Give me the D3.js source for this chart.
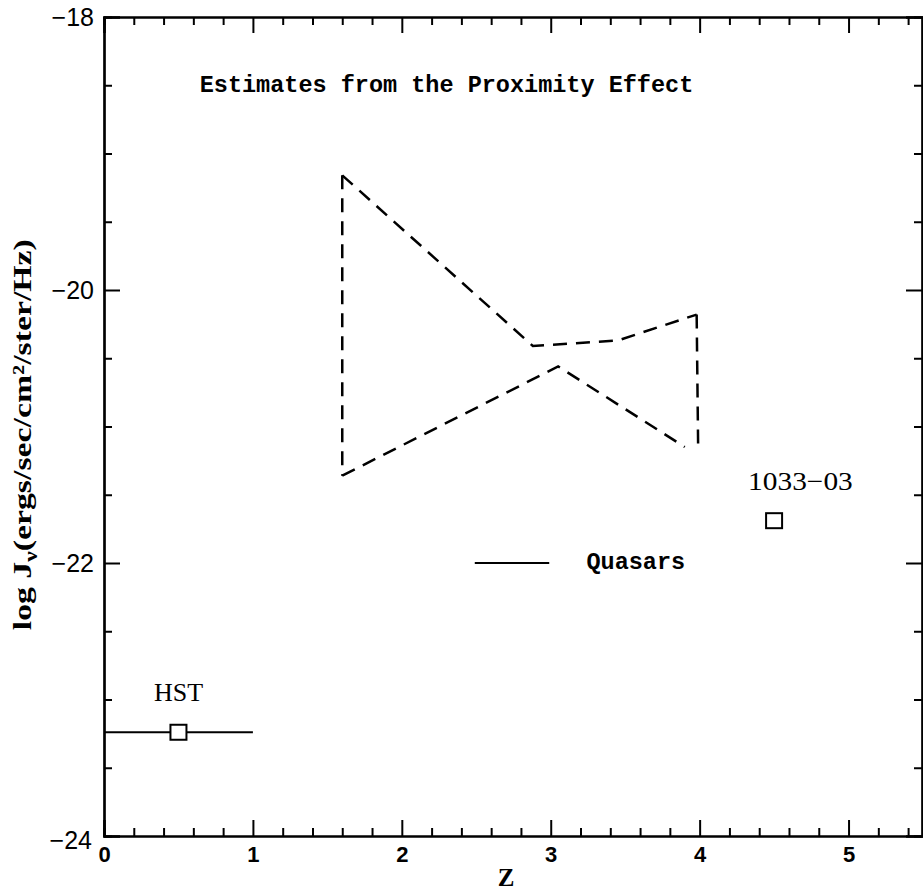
<!DOCTYPE html>
<html>
<head>
<meta charset="utf-8">
<script src="https://cdn.jsdelivr.net/npm/d3@7"></script>
<style>
  body { margin: 0; background: #fff; }
  svg { display: block; }
</style>
</head>
<body>
<svg id="chart"></svg>
<script>
const WIDTH = 923;
const HEIGHT = 891;

// Data
const xMajorTicks = [0, 1, 2, 3, 4, 5];
const yMajorTicks = [-24, -22, -20, -18];
// upper branch of the quasar proximity-effect band
const bandUpper = [
  { z: 1.6, j: -19.16 },
  { z: 2.88, j: -20.41 },
  { z: 3.45, j: -20.37 },
  { z: 3.98, j: -20.18 }
];
// lower branch
const bandLower = [
  { z: 1.6, j: -21.36 },
  { z: 3.05, j: -20.56 },
  { z: 3.9, j: -21.15 }
];
// vertical sides of the band
const bandSides = [
  [{ z: 1.6, j: -19.16 }, { z: 1.6, j: -21.36 }],
  [{ z: 3.98, j: -20.18 }, { z: 3.99, j: -21.16 }]
];
const points = [
  { name: "HST", z: 0.5, j: -23.24, zmin: 0, zmax: 1 },
  { name: "1033-03", z: 4.5, j: -21.69, zmin: null, zmax: null }
];
const legendLine = [{ z: 2.49, j: -22 }, { z: 2.99, j: -22 }];
const legendLabel = "Quasars";
const titleText = "Estimates from the Proximity Effect";

const svg = d3.select("#chart").attr("width", WIDTH).attr("height", HEIGHT);

const x = d3.scaleLinear().domain([0, 5.5]).range([104, 923]);
const y = d3.scaleLinear().domain([-24, -18]).range([836, 17]);

const xMinor = d3.range(0, 5.5001, 0.2).filter(v => Math.abs(v - Math.round(v)) > 1e-6);
const yMinor = d3.range(-24, -17.99, 0.5).filter(v => Math.abs(v / 2 - Math.round(v / 2)) > 1e-6);

const axisG = svg.append("g");
const tickFont = "'Liberation Sans', sans-serif";
const minus = s => s.replace("-", "\u2212");

// bottom
const xAxisG = axisG.append("g").attr("transform", `translate(0,${y(-24)})`)
  .call(d3.axisBottom(x).tickValues(xMajorTicks).tickSize(-16).tickPadding(10).tickFormat(d3.format("d")));
axisG.append("g").attr("transform", `translate(0,${y(-24)})`)
  .call(d3.axisBottom(x).tickValues(xMinor).tickSize(-8).tickFormat(""));
// top
axisG.append("g").attr("transform", `translate(0,${y(-18)})`)
  .call(d3.axisTop(x).tickValues(xMajorTicks).tickSize(-16).tickFormat(""));
axisG.append("g").attr("transform", `translate(0,${y(-18)})`)
  .call(d3.axisTop(x).tickValues(xMinor).tickSize(-8).tickFormat(""));
// left
const yAxisG = axisG.append("g").attr("transform", `translate(${x(0)},0)`)
  .call(d3.axisLeft(y).tickValues(yMajorTicks).tickSize(-16).tickPadding(10).tickFormat(d => minus(d3.format("d")(d))));
axisG.append("g").attr("transform", `translate(${x(0)},0)`)
  .call(d3.axisLeft(y).tickValues(yMinor).tickSize(-8).tickFormat(""));
// right
axisG.append("g").attr("transform", `translate(${x(5.5) - 1},0)`)
  .call(d3.axisRight(y).tickValues(yMajorTicks).tickSize(-16).tickFormat(""));
axisG.append("g").attr("transform", `translate(${x(5.5) - 1},0)`)
  .call(d3.axisRight(y).tickValues(yMinor).tickSize(-8).tickFormat(""));

axisG.selectAll("path.domain").attr("stroke", "#000").attr("stroke-width", 2.2);
axisG.selectAll(".tick line").attr("stroke", "#000").attr("stroke-width", 2);
axisG.selectAll("text")
  .attr("font-family", tickFont).attr("font-size", 25).attr("fill", "#000");
xAxisG.selectAll("text").attr("font-weight", "bold").attr("font-size", 22);
yAxisG.selectAll("text").filter(d => d === -24).attr("dy", "0.5em").attr("x", -12);

// axis titles
svg.append("text")
  .attr("x", x(2.7)).attr("y", 886)
  .attr("text-anchor", "middle")
  .attr("font-family", "'Liberation Serif', serif").attr("font-weight", "bold")
  .attr("font-size", 25).text("Z");

const yTitle = svg.append("text")
  .attr("transform", `translate(31,${y(-21.06)}) rotate(-90) scale(1.3,1)`)
  .attr("text-anchor", "middle")
  .attr("font-family", "'Liberation Serif', serif").attr("font-weight", "bold")
  .attr("font-size", 26);
yTitle.append("tspan").text("log J");
yTitle.append("tspan").attr("font-size", 18).attr("dy", 6).text("\u03BD");
yTitle.append("tspan").attr("dy", -6).text("(ergs/sec/cm\u00B2/ster/Hz)");

// title
svg.append("text")
  .attr("x", x(2.3)).attr("y", 92)
  .attr("text-anchor", "middle")
  .attr("font-family", "'Liberation Mono', monospace").attr("font-weight", "bold")
  .attr("font-size", 23.5).text(titleText);

// dashed band
const line = d3.line().x(d => x(d.z)).y(d => y(d.j));
const bandG = svg.append("g")
  .attr("fill", "none").attr("stroke", "#000").attr("stroke-width", 2.5)
  .attr("stroke-dasharray", "14,9");
bandG.append("path").attr("d", line(bandUpper));
bandG.append("path").attr("d", line(bandLower));
bandSides.forEach(s => bandG.append("path").attr("d", line(s)));

// points with range bars
const ptG = svg.append("g");
points.forEach((p, i) => {
  if (p.zmin !== null) {
    ptG.append("line")
      .attr("x1", x(p.zmin)).attr("x2", x(p.zmax))
      .attr("y1", y(p.j)).attr("y2", y(p.j))
      .attr("stroke", "#000").attr("stroke-width", 2);
  }
  ptG.append("rect")
    .attr("x", x(p.z) - 8).attr("y", y(p.j) - 7.5)
    .attr("width", 16).attr("height", 15)
    .attr("fill", "#fff").attr("stroke", "#000").attr("stroke-width", 2);
  // HST label is centred over its box, 1033-03 starts a little left of it
  const lx = i === 0 ? x(p.z) : x(p.z) - 26;
  ptG.append("text")
    .attr("transform", `translate(${lx},${y(p.j) - 31}) scale(${i === 0 ? 1 : 1.13},1)`)
    .attr("text-anchor", i === 0 ? "middle" : "start")
    .attr("font-family", "'Liberation Serif', serif")
    .attr("font-size", 26).text(minus(p.name));
});

// legend
svg.append("path").attr("d", line(legendLine))
  .attr("stroke", "#000").attr("stroke-width", 2).attr("fill", "none");
svg.append("text")
  .attr("x", x(3.24)).attr("y", y(-22) + 6)
  .attr("font-family", "'Liberation Mono', monospace").attr("font-weight", "bold")
  .attr("font-size", 23.5).text(legendLabel);
</script>
</body>
</html>
